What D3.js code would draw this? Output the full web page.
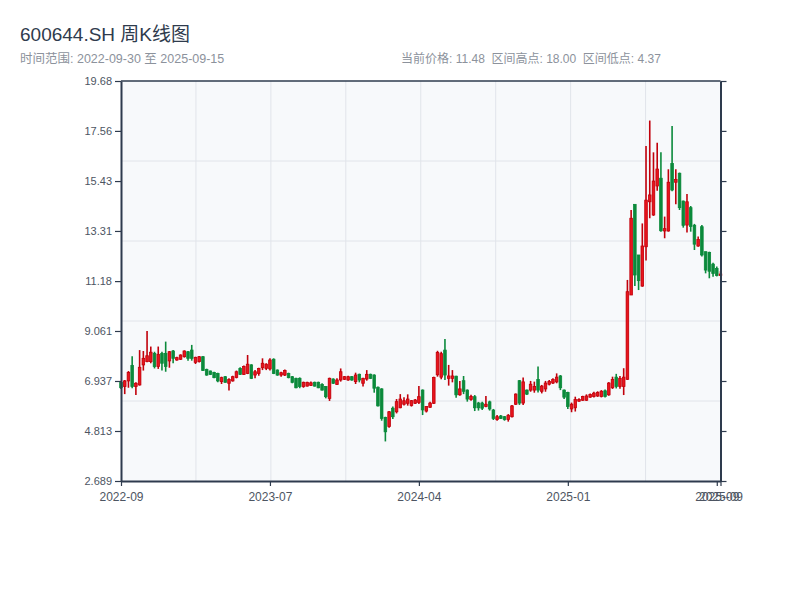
<!DOCTYPE html>
<html>
<head>
<meta charset="utf-8">
<script src="https://cdn.jsdelivr.net/npm/d3@7"></script>
<style>
  body { margin: 0; background: #fff; }
  text { font-family: "Liberation Sans", "Noto Sans CJK SC", sans-serif; }
</style>
</head>
<body>
<div id="chart"></div>
<script>
// weekly OHLC
const opens = [6.88,6.70,6.94,7.60,6.70,6.77,7.62,7.76,7.76,8.11,7.55,8.11,8.11,7.79,8.21,7.83,7.86,7.97,8.18,8.25,
  7.73,7.76,7.97,7.43,7.36,7.30,7.26,6.91,7.12,6.84,6.94,7.09,7.47,7.22,7.26,7.62,7.19,7.26,7.50,7.47,
  7.45,7.86,7.40,7.19,7.19,7.26,7.12,7.05,7.05,6.70,6.72,6.75,6.88,6.88,6.79,6.70,6.20,7.02,6.79,6.98,
  7.01,6.98,7.12,6.91,7.22,6.84,7.02,7.22,7.19,6.67,6.60,5.39,5.00,5.78,5.63,5.80,5.95,5.99,5.90,5.99,
  6.03,6.55,5.66,5.82,5.99,7.20,7.10,8.25,7.05,7.05,7.14,6.35,6.95,6.55,6.15,6.27,6.00,6.00,5.85,6.05,
  5.70,5.30,5.45,5.42,5.30,5.42,5.95,6.95,6.00,6.55,6.55,6.55,7.00,6.50,6.60,6.80,6.85,6.90,7.15,6.55,
  6.45,5.75,5.80,6.08,6.12,6.12,6.25,6.28,6.30,6.28,6.52,6.35,6.65,7.10,6.70,6.70,7.01,10.59,14.44,12.29,
  10.97,12.64,14.55,13.99,15.22,15.55,13.31,13.31,16.18,15.38,15.76,14.58,13.56,14.30,13.55,12.67,13.49,12.43,12.40,11.90,
  11.72,11.42];
const highs = [6.91,6.98,7.36,7.99,6.88,8.25,8.21,9.06,8.40,8.18,8.40,8.18,8.61,8.21,8.25,7.97,8.07,8.24,8.21,8.47,
  7.97,8.00,8.00,7.46,7.38,7.33,7.29,7.12,7.15,7.05,7.16,7.38,7.52,7.59,8.04,7.65,7.40,7.50,7.90,7.69,
  7.90,7.90,7.43,7.33,7.43,7.29,7.15,7.08,7.09,6.91,6.91,6.92,6.91,6.91,6.84,6.72,7.08,7.05,7.05,7.47,
  7.15,7.16,7.15,7.29,7.25,7.08,7.40,7.25,7.22,6.70,6.63,5.42,5.66,5.85,6.17,6.38,6.25,6.37,6.13,6.17,
  6.72,6.58,5.87,6.06,7.12,8.22,8.18,8.72,7.62,7.40,7.16,6.94,7.15,6.58,6.35,6.34,6.05,6.06,6.30,6.10,
  5.75,5.49,5.49,5.45,5.53,5.92,6.41,6.98,7.09,6.58,6.94,6.91,7.55,6.77,6.94,6.98,7.05,7.26,7.19,6.58,
  6.48,6.02,6.27,6.20,6.31,6.37,6.41,6.48,6.50,6.55,6.58,6.89,7.12,7.24,7.15,7.48,11.23,14.20,14.44,12.29,
  13.63,16.92,18.00,16.65,17.06,16.65,13.92,15.93,17.77,15.93,15.79,14.60,14.88,14.37,13.61,13.07,13.56,12.43,12.43,11.96,
  11.80,11.60];
const lows = [6.60,6.38,6.65,6.63,6.34,6.74,7.38,7.73,7.69,7.47,7.45,7.38,7.33,7.50,7.69,7.80,7.83,7.93,7.80,7.80,
  7.66,7.72,7.36,7.16,7.19,7.05,6.88,6.81,6.87,6.53,6.91,7.05,7.19,7.19,7.23,7.02,7.05,7.16,7.40,7.40,
  7.38,7.23,7.16,7.12,7.15,7.05,6.84,6.63,6.63,6.65,6.70,6.72,6.70,6.63,6.53,6.20,6.09,6.81,6.77,6.91,
  6.98,6.95,6.95,6.81,6.88,6.70,6.95,7.02,6.44,5.85,5.25,4.37,4.95,5.32,5.56,5.78,5.90,5.89,5.85,5.96,
  5.96,5.49,5.60,5.80,5.96,7.12,7.01,6.98,6.74,6.88,6.23,6.31,6.38,6.06,6.10,5.66,5.68,5.71,5.82,5.68,
  5.28,5.25,5.32,5.25,5.21,5.39,5.92,5.92,5.92,6.34,6.48,6.44,6.45,6.41,6.48,6.75,6.81,6.84,6.55,6.17,
  5.75,5.61,5.64,6.06,6.09,6.09,6.23,6.24,6.26,6.24,6.24,6.31,6.60,6.62,6.61,6.34,6.98,10.59,10.97,10.80,
  10.94,12.05,13.85,13.95,15.02,13.28,13.00,13.28,15.00,14.44,14.20,13.45,13.24,13.28,12.50,12.64,12.22,11.51,11.30,11.37,
  11.38,11.40];
const closes = [6.65,6.94,7.30,6.70,6.84,7.52,7.90,8.01,8.16,7.55,8.07,7.69,7.55,8.18,7.90,7.93,8.04,8.21,7.90,7.90,
  7.94,7.97,7.38,7.19,7.22,7.08,6.94,7.08,6.88,7.00,7.12,7.33,7.22,7.55,7.65,7.05,7.33,7.47,7.69,7.65,
  7.83,7.26,7.19,7.29,7.38,7.08,6.88,6.65,6.70,6.88,6.88,6.86,6.72,6.65,6.55,6.27,7.05,6.84,6.98,7.33,
  7.12,7.12,6.98,7.19,6.98,7.05,7.22,7.05,6.63,5.88,5.35,4.78,5.63,5.42,6.06,6.17,6.10,6.17,6.10,6.13,
  6.27,5.71,5.85,6.00,7.09,8.15,8.10,7.19,7.15,7.15,6.35,6.60,6.50,6.17,6.28,5.80,5.80,5.78,5.95,5.75,
  5.35,5.42,5.35,5.30,5.48,5.88,6.38,6.00,6.90,6.38,6.80,6.70,6.55,6.72,6.85,6.92,7.00,7.10,6.65,6.25,
  5.85,5.95,6.15,6.15,6.28,6.30,6.36,6.42,6.45,6.50,6.28,6.85,7.00,6.70,7.05,7.10,10.73,13.85,11.44,11.20,
  12.67,14.62,14.84,15.43,15.94,13.32,13.41,15.38,15.05,15.50,14.30,13.55,14.55,13.50,12.75,12.95,12.29,11.65,11.60,11.50,
  11.42,11.48];

const xTickIndex = [0, 40, 80, 120, 160, 161];
const xTickLabels = ["2022-09", "2023-07", "2024-04", "2025-01", "2025-09", "2025-09"];
const yTicks = [2.689, 4.813, 6.937, 9.061, 11.18, 13.31, 15.43, 17.56, 19.68];

const titleText = "600644.SH 周K线图";
const rangeText = "时间范围: 2022-09-30 至 2025-09-15";
const statsText = "当前价格: 11.48  区间高点: 18.00  区间低点: 4.37";

const W = 800, H = 600;
const mLeft = 121, mRight = 720.5, mTop = 81, mBottom = 481;
const axisColor = "#2e3b4e";
const upColor = "#e8141c", upStroke = "#c1000b", downColor = "#0b8a3b";

const svg = d3.select("#chart").append("svg")
  .attr("width", W).attr("height", H);

svg.append("text").attr("x", 20).attr("y", 41)
  .attr("font-size", 19).attr("fill", "#2f3b4d").text(titleText);
svg.append("text").attr("x", 20).attr("y", 63)
  .attr("font-size", 12.5).attr("fill", "#8c929c").text(rangeText);
svg.append("text").attr("x", 401).attr("y", 63).attr("xml:space", "preserve")
  .attr("font-size", 12).attr("fill", "#8c929c").text(statsText);

const x = d3.scaleLinear().domain([0, opens.length - 1]).range([mLeft, mRight]);
const y = d3.scaleLinear().domain([yTicks[0], yTicks[yTicks.length - 1]]).range([mBottom, mTop]);

// plot background
svg.append("rect").attr("x", mLeft).attr("y", mTop)
  .attr("width", mRight - mLeft).attr("height", mBottom - mTop).attr("fill", "#f7f9fb");

// grid: 8 columns, 5 rows
const gx = d3.scaleLinear().domain([0, 8]).range([mLeft, mRight]);
const gy = d3.scaleLinear().domain([0, 5]).range([mBottom, mTop]);
svg.append("g").selectAll("line").data(d3.range(1, 8)).enter().append("line")
  .attr("x1", d => gx(d)).attr("x2", d => gx(d)).attr("y1", mTop).attr("y2", mBottom)
  .attr("stroke", "#e1e4ea").attr("stroke-width", 1);
svg.append("g").selectAll("line").data(d3.range(1, 5)).enter().append("line")
  .attr("y1", d => gy(d)).attr("y2", d => gy(d)).attr("x1", mLeft).attr("x2", mRight)
  .attr("stroke", "#e1e4ea").attr("stroke-width", 1);

// candles
const bw = 2.6;
const candles = svg.append("g").selectAll("g").data(opens).enter().append("g");
candles.append("line")
  .attr("x1", (d, i) => x(i)).attr("x2", (d, i) => x(i))
  .attr("y1", (d, i) => y(highs[i])).attr("y2", (d, i) => y(lows[i]))
  .attr("stroke", (d, i) => closes[i] >= d ? upStroke : downColor)
  .attr("stroke-width", 1.6);
candles.append("rect")
  .attr("x", (d, i) => x(i) - bw / 2)
  .attr("y", (d, i) => y(Math.max(d, closes[i])))
  .attr("width", bw)
  .attr("height", (d, i) => Math.max(1, Math.abs(y(d) - y(closes[i]))))
  .attr("fill", (d, i) => closes[i] >= d ? upColor : downColor)
  .attr("stroke", (d, i) => closes[i] >= d ? upStroke : downColor)
  .attr("stroke-width", 0.8);

// axes
const yLeft = svg.append("g").attr("transform", `translate(${mLeft},0)`)
  .call(d3.axisLeft(y).tickValues(yTicks).tickFormat(d3.format(".4")).tickSize(6).tickSizeOuter(0));
const yRight = svg.append("g").attr("transform", `translate(${mRight},0)`)
  .call(d3.axisRight(y).tickValues(yTicks).tickFormat("").tickSize(6).tickSizeOuter(0));
const xAxis = svg.append("g").attr("transform", `translate(0,${mBottom})`)
  .call(d3.axisBottom(x).tickValues(xTickIndex).tickFormat((d, i) => xTickLabels[i]).tickSize(5).tickSizeOuter(0));

svg.append("line").attr("x1", mLeft).attr("x2", mRight).attr("y1", mTop).attr("y2", mTop)
  .attr("stroke", axisColor).attr("stroke-width", 1.5);

[yLeft, yRight, xAxis].forEach(g => {
  g.select(".domain").attr("stroke", axisColor).attr("stroke-width", 2);
  g.selectAll(".tick line").attr("stroke", axisColor).attr("stroke-width", 1.2);
  g.selectAll(".tick text").attr("fill", "#4d5562").attr("font-size", 11)
    .attr("font-family", "Liberation Sans, sans-serif");
});
yLeft.selectAll(".tick text").attr("x", -9);
xAxis.selectAll(".tick text").attr("y", 11).attr("font-size", 12);
</script>
</body>
</html>
